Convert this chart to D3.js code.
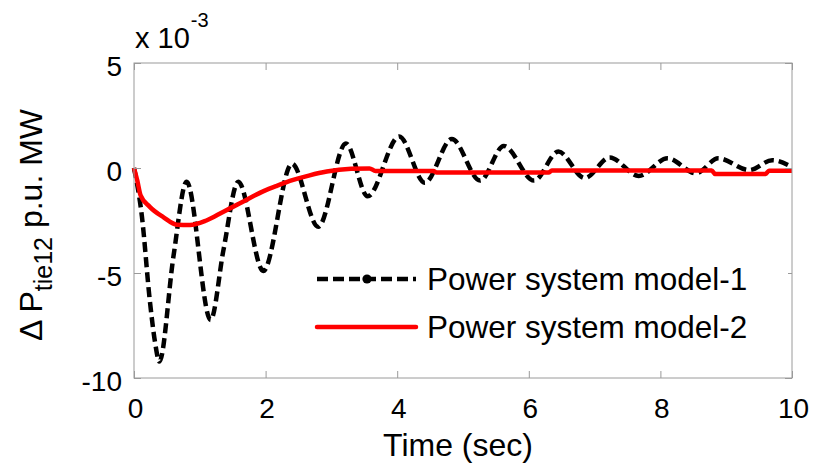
<!DOCTYPE html>
<html>
<head>
<meta charset="utf-8">
<script src="https://cdn.jsdelivr.net/npm/d3@7"></script>
<style>
  html, body { margin: 0; padding: 0; background: #fff; }
  svg { display: block; font-family: "Liberation Sans", Arial, sans-serif; }
</style>
</head>
<body>
<svg id="chart" width="814" height="466"></svg>
<script>
// ---- data (values in units of 1e-3) ----
const model1Time  = [0, 0.12, 0.24, 0.32, 0.385, 0.6, 0.80, 1.165, 1.36, 1.585, 1.965, 2.40, 2.80, 3.22, 3.55, 4.03, 4.42, 4.83, 5.26, 5.62, 6.08, 6.45, 6.85, 7.23, 7.67, 8.11, 8.54, 8.88, 9.35, 9.70, 10.0];
const model1Value = [0, -2.3, -6.3, -8.3, -9.22, -4.2, -0.65, -7.24, -3.9, -0.65, -4.9, 0.2, -2.8, 1.17, -1.35, 1.5, -0.7, 1.38, -0.6, 1.05, -0.6, 0.78, -0.48, 0.5, -0.38, 0.46, -0.25, 0.46, -0.1, 0.37, 0.05];

const model2Time  = [0, 0.05, 0.1, 0.24, 0.45, 0.65, 0.85, 1.1, 1.36, 1.61, 1.97, 2.17, 2.42, 2.67, 2.93, 3.3, 3.58, 3.67, 4.55, 4.6, 6.3, 6.35, 8.78, 8.83, 9.6, 9.65, 10.0];
const model2Value = [0, -0.6, -1.3, -1.85, -2.35, -2.7, -2.72, -2.5, -2.08, -1.68, -1.1, -0.85, -0.57, -0.35, -0.17, -0.04, -0.02, -0.14, -0.14, -0.22, -0.22, -0.12, -0.12, -0.28, -0.28, -0.13, -0.13];

const xTickValues = [0, 2, 4, 6, 8, 10];
const yTickValues = [-10, -5, 0, 5];
const seriesNames = ["Power system model-1", "Power system model-2"];
const xLabel = "Time (sec)";

// ---- layout ----
const svg = d3.select("#chart");
const mLeft = 134, mRight = 792, mTop = 63, mBottom = 378;
const x = d3.scaleLinear().domain([0, 10]).range([mLeft, mRight]);
const y = d3.scaleLinear().domain([-10, 5]).range([mBottom, mTop]);
const axisColor = "#9a9a9a";
const fmt = d => String(d);

svg.append("rect").attr("width", 814).attr("height", 466).attr("fill", "#fff");

// ---- lines ----
const line = d3.line().x(d => x(d[0])).y(d => y(d[1])).curve(d3.curveMonotoneX);
const d1 = model1Time.map((t, i) => [t, model1Value[i]]);
const d2 = model2Time.map((t, i) => [t, model2Value[i]]);

svg.append("path").datum(d1).attr("d", line)
  .attr("fill", "none").attr("stroke", "#000").attr("stroke-width", 4.5)
  .attr("stroke-dasharray", "10,5");
svg.append("path").datum(d2).attr("d", line)
  .attr("fill", "none").attr("stroke", "#ff0000").attr("stroke-width", 4.5);

// ---- axes ----
const fontTick = 28;
const gx = svg.append("g").attr("transform", `translate(0,${mBottom})`)
  .call(d3.axisBottom(x).tickValues(xTickValues).tickSizeInner(-7).tickSizeOuter(0).tickFormat(fmt));
gx.selectAll("text").attr("y", 40).attr("dy", null).attr("dx", 1);
const gxt = svg.append("g").attr("transform", `translate(0,${mTop})`)
  .call(d3.axisTop(x).tickValues(xTickValues).tickSizeInner(-7).tickSizeOuter(0).tickFormat(""));
const gy = svg.append("g").attr("transform", `translate(${mLeft},0)`)
  .call(d3.axisLeft(y).tickValues(yTickValues).tickSizeInner(-7).tickSizeOuter(0).tickFormat(fmt));
gy.selectAll("text").attr("x", -12).attr("dy", null).attr("y", 12);
const gyr = svg.append("g").attr("transform", `translate(${mRight},0)`)
  .call(d3.axisRight(y).tickValues(yTickValues).tickSizeInner(-7).tickSizeOuter(0).tickFormat(""));

[gx, gxt, gy, gyr].forEach(g => {
  g.select(".domain").remove();
  g.selectAll("line").attr("stroke", axisColor);
  g.selectAll("text").attr("fill", "#000").style("font-size", fontTick + "px")
    .style("font-family", '"Liberation Sans", Arial, sans-serif');
});

svg.append("rect").attr("x", mLeft).attr("y", mTop).attr("width", mRight - mLeft).attr("height", mBottom - mTop)
  .attr("fill", "none").attr("stroke", axisColor).attr("stroke-width", 1);

// exponent label
const ex = svg.append("text").attr("x", 135).attr("y", 48).style("font-size", "29px").attr("fill", "#000");
ex.append("tspan").text("x 10");
ex.append("tspan").attr("dx", 1).attr("dy", -21).style("font-size", "20px").text("-3");

// x label
svg.append("text").attr("x", 458).attr("y", 456).attr("text-anchor", "middle")
  .style("font-size", "32px").attr("fill", "#000").text(xLabel);

// y label
const yl = svg.append("text").attr("transform", "translate(42,225) rotate(-90)")
  .attr("text-anchor", "middle").style("font-size", "32px").attr("fill", "#000");
yl.append("tspan").text("\u0394 P");
yl.append("tspan").attr("dy", 10).style("font-size", "25px").text("tie12");
yl.append("tspan").attr("dy", -10).text(" p.u. MW");

// ---- legend ----
const leg = svg.append("g");
leg.append("rect").attr("x", 302).attr("y", 252).attr("width", 486).attr("height", 104).attr("fill", "#fff");
const legY = [279, 327];
leg.append("line").attr("x1", 317).attr("x2", 416).attr("y1", legY[0]).attr("y2", legY[0])
  .attr("stroke", "#000").attr("stroke-width", 4.5).attr("stroke-dasharray", "11,5");
leg.append("circle").attr("cx", 367).attr("cy", legY[0]).attr("r", 4.6).attr("fill", "#000");
leg.append("line").attr("x1", 317).attr("x2", 416).attr("y1", legY[1]).attr("y2", legY[1])
  .attr("stroke", "#ff0000").attr("stroke-width", 4.5).attr("stroke-linecap", "round");
seriesNames.forEach((n, i) => {
  leg.append("text").attr("x", 427).attr("y", legY[i] + 11).style("font-size", "31.5px")
    .attr("fill", "#000").text(n);
});
</script>
</body>
</html>
